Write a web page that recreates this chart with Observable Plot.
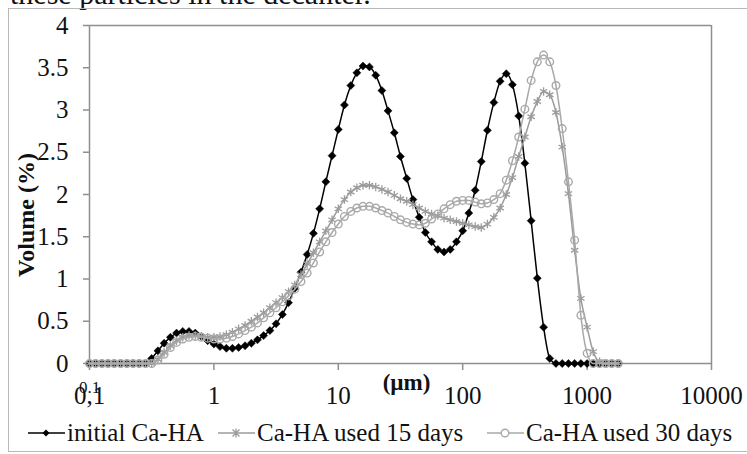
<!DOCTYPE html>
<html><head><meta charset="utf-8">
<script src="https://cdn.jsdelivr.net/npm/d3@7"></script>
<script src="https://cdn.jsdelivr.net/npm/@observablehq/plot@0.6"></script>
<style>
body{margin:0;width:747px;height:454px;overflow:hidden;position:relative;background:#fff;font-family:"Liberation Serif",serif;color:#111}
#border{position:absolute;left:8px;top:8px;width:760px;height:442px;border:1.5px solid #b8b8b8;}
#top{position:absolute;left:10px;top:-23px;font-size:30px;white-space:nowrap;color:#111}
#chart{position:absolute;left:0;top:0}
#ylab{position:absolute;left:26px;top:215px;transform:translate(-50%,-50%) rotate(-90deg);font-weight:bold;font-size:24px;white-space:nowrap}
.leg{position:absolute;top:420px;height:26px;display:flex;align-items:center;font-size:25px;white-space:nowrap}
.leg svg{margin-right:2px}
</style></head>
<body>
<div id="top">these particles in the decanter.</div>
<div id="border"></div>
<div id="chart"></div>
<div id="ylab">Volume (%)</div>
<div id="legend"></div>
<script>
// particle size classes (µm)
const sizes = [
0.1,0.112,0.126,0.141,0.158,0.178,0.2,0.224,0.251,0.282,0.316,0.355,0.398,0.447,0.501,0.562,0.631,0.708,0.794,0.891,
1,1.12,1.26,1.41,1.58,1.78,2,2.24,2.51,2.82,3.16,3.55,3.98,4.47,5.01,5.62,6.31,7.08,7.94,8.91,
10,11.2,12.6,14.1,15.8,17.8,20,22.4,25.1,28.2,31.6,35.5,39.8,44.7,50.1,56.2,63.1,70.8,79.4,89.1,
100,112,126,141,158,178,200,224,251,282,316,355,398,447,501,562,631,708,794,891,
1000,1120,1260,1410,1580,1780];

const initialCaHA = [
0,0,0,0,0,0,0,0,0,0,
0.06,0.15,0.24,0.31,0.36,0.38,0.38,0.36,0.32,0.27,
0.23,0.20,0.18,0.18,0.19,0.21,0.24,0.28,0.33,0.39,
0.47,0.58,0.72,0.89,1.08,1.29,1.54,1.83,2.15,2.46,
2.77,3.06,3.29,3.44,3.52,3.51,3.41,3.23,2.99,2.73,
2.45,2.19,1.94,1.73,1.55,1.44,1.35,1.32,1.35,1.44,
1.57,1.78,2.05,2.39,2.76,3.09,3.34,3.43,3.30,2.93,
2.37,1.69,1.01,0.43,0.06,
0,0,0,0,0,0,0,0,0,0,0];

const used15 = [
0,0,0,0,0,0,0,0,0,0,0,
0.05,0.13,0.21,0.27,0.31,0.33,0.33,0.32,0.31,
0.31,0.32,0.34,0.37,0.41,0.45,0.50,0.55,0.60,0.66,
0.72,0.78,0.85,0.93,1.05,1.18,1.31,1.44,1.57,1.70,
1.83,1.94,2.03,2.08,2.11,2.11,2.09,2.06,2.03,1.99,
1.95,1.92,1.88,1.84,1.80,1.77,1.75,1.72,1.70,1.68,
1.66,1.64,1.62,1.61,1.65,1.73,1.84,2.00,2.20,2.45,
2.68,2.92,3.10,3.22,3.18,2.97,2.56,2.01,1.34,0.77,
0.43,0.14,0.02,0,0,0];

const used30 = [
0,0,0,0,0,0,0,0,0,0,0,
0.04,0.11,0.19,0.25,0.29,0.31,0.32,0.31,0.30,
0.29,0.29,0.30,0.32,0.35,0.39,0.43,0.48,0.54,0.60,
0.66,0.73,0.80,0.88,0.97,1.07,1.19,1.32,1.44,1.55,
1.65,1.74,1.80,1.84,1.86,1.86,1.84,1.81,1.78,1.74,
1.70,1.67,1.65,1.64,1.66,1.71,1.77,1.83,1.88,1.92,
1.93,1.93,1.91,1.89,1.90,1.94,2.01,2.17,2.40,2.68,
3.01,3.35,3.57,3.65,3.57,3.29,2.78,2.15,1.46,0.57,
0.12,0,0,0,0,0];

const yTicks = [0,0.5,1,1.5,2,2.5,3,3.5,4];
const yTickLabels = ["0","0.5","1","1.5","2","2.5","3","3.5","4"];
const xTicks = [0.1,1,10,100,1000,10000];
const xTickLabels = ["0,1","1","10","100","1000","10000"];
const seriesNames = ["initial Ca-HA","Ca-HA used 15 days","Ca-HA used 30 days"];

const rows = (vals) => sizes.map((s,i)=>({size:s, v:vals[i]}));
const dInit = rows(initialCaHA), d15 = rows(used15), d30 = rows(used30);

const gray15 = "#9b9b9b", gray30 = "#a9a9a9", axisGray = "#8f8f8f";
const serif = "Liberation Serif";

const chart = Plot.plot({
  width: 747, height: 410,
  marginLeft: 89, marginRight: 36, marginTop: 25, marginBottom: 47,
  x: {type: "log", domain: [0.1, 10000]},
  y: {domain: [0, 4]},
  style: {fontFamily: serif, fontSize: "25px", color: "#111", background: "transparent", overflow: "visible"},
  marks: [
    Plot.ruleY([4], {stroke: axisGray, strokeWidth: 1.5}),
    Plot.ruleX([10000], {stroke: axisGray, strokeWidth: 1.5}),
    Plot.axisY({ticks: yTicks, tickFormat: d => yTickLabels[yTicks.indexOf(d)], tickSize: 6, tickPadding: 15, stroke: axisGray, strokeWidth: 1.5, label: null, fontSize: 25, fontFamily: serif}),
    Plot.axisX({ticks: xTicks, tickFormat: d => xTickLabels[xTicks.indexOf(d)], tickSize: 7, tickPadding: 16, stroke: axisGray, strokeWidth: 1.5, label: null, fontSize: 25, fontFamily: serif}),
    Plot.axisX({ticks: [xTicks[0]], tickFormat: () => "0.1", tickSize: 0, tickPadding: 17, label: null, fontSize: 17, fontFamily: serif}),
    Plot.ruleX([0.1], {stroke: axisGray, strokeWidth: 1.5}),
    Plot.ruleY([0], {stroke: axisGray, strokeWidth: 1.5}),
    Plot.text(["(µm)"], {frameAnchor: "bottom", dx: 6, dy: 26, fontWeight: "bold", fontSize: 23, fontFamily: serif}),
    Plot.line(dInit, {x: "size", y: "v", stroke: "#000", strokeWidth: 1.5, curve: "monotone-x"}),
    Plot.dot(dInit, {x: "size", y: "v", symbol: "diamond2", r: 3.6, fill: "#000", stroke: "#000", strokeWidth: 0.5}),
    Plot.line(d15, {x: "size", y: "v", stroke: gray15, strokeWidth: 1.5, curve: "monotone-x"}),
    Plot.dot(d15, {x: "size", y: "v", symbol: "asterisk", r: 4, stroke: gray15, strokeWidth: 1.3}),
    Plot.line(d30, {x: "size", y: "v", stroke: gray30, strokeWidth: 1.5, curve: "monotone-x"}),
    Plot.dot(d30, {x: "size", y: "v", symbol: "circle", r: 3.8, fill: "none", stroke: gray30, strokeWidth: 1.4})
  ]
});
document.getElementById("chart").appendChild(chart);

// legend
const legDefs = [
  {name: seriesNames[0], left: 28, color: "#000", marker: "diamond"},
  {name: seriesNames[1], left: 218, color: gray15, marker: "star"},
  {name: seriesNames[2], left: 487, color: gray30, marker: "circle"}
];
const legend = document.getElementById("legend");
for (const L of legDefs) {
  const div = document.createElement("div");
  div.className = "leg";
  div.style.left = L.left + "px";
  let m = "";
  if (L.marker === "diamond") m = `<path d="M18,6.5L21.5,10L18,13.5L14.5,10Z" fill="${L.color}"/>`;
  else if (L.marker === "star") m = `<path d="M14.5,6.5L21.5,13.5M14.5,13.5L21.5,6.5M18,5.5L18,14.5" stroke="${L.color}" stroke-width="1.3"/>`;
  else m = `<circle cx="18" cy="10" r="3.8" fill="white" stroke="${L.color}" stroke-width="1.4"/>`;
  div.innerHTML = `<svg width="37" height="20"><line x1="0" x2="37" y1="10" y2="10" stroke="${L.color}" stroke-width="1.6"/>${m}</svg><span>${L.name}</span>`;
  legend.appendChild(div);
}
</script>
</body></html>
